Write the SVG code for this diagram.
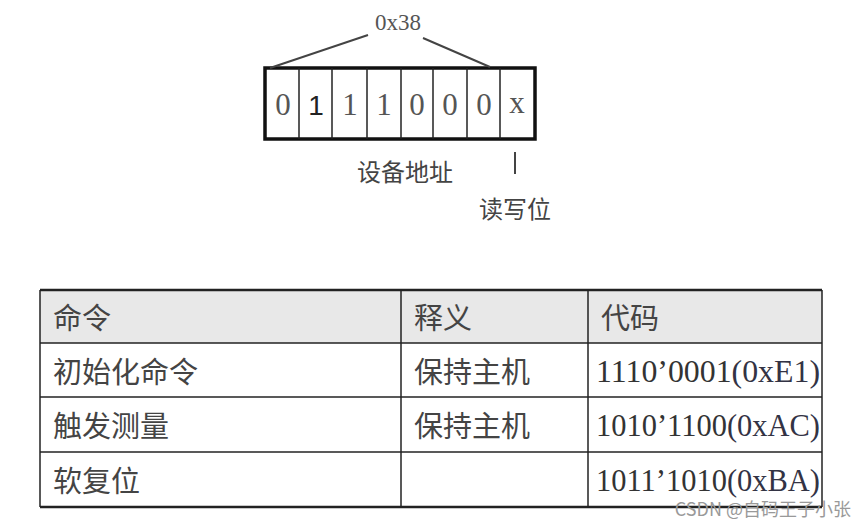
<svg xmlns="http://www.w3.org/2000/svg" width="865" height="527" viewBox="0 0 865 527">
<style>
.bit{font-family:"Liberation Serif",serif;font-size:31px;fill:#555;text-anchor:middle}
.cn{font-family:"Noto Sans CJK SC",sans-serif;font-size:29px;fill:#444}
.code{font-family:"Liberation Serif",serif;font-size:31px;fill:#333}
.hex{font-family:"Liberation Serif",serif;fill:#334}
.ln{stroke:#444;stroke-width:2;fill:none}
</style>
<rect width="865" height="527" fill="#fff"/>
<g id="bits">
<rect x="265" y="68" width="270" height="71" fill="#fff" stroke="#111" stroke-width="3.5"/>
<g stroke="#222" stroke-width="1.5">
<line x1="299" y1="68" x2="299" y2="139"/><line x1="332" y1="68" x2="332" y2="139"/><line x1="367" y1="68" x2="367" y2="139"/><line x1="401" y1="68" x2="401" y2="139"/><line x1="433" y1="68" x2="433" y2="139"/><line x1="467" y1="68" x2="467" y2="139"/><line x1="500" y1="68" x2="500" y2="139"/>
</g>
<text class="bit" x="283" y="115">0</text><text class="bit" x="316" y="115" style="font-family:'Liberation Sans',sans-serif;fill:#222;font-size:28px">1</text><text class="bit" x="350" y="115">1</text><text class="bit" x="384" y="115">1</text><text class="bit" x="417" y="115">0</text><text class="bit" x="450" y="115">0</text><text class="bit" x="484" y="115">0</text><text class="bit" x="517" y="113">x</text>
</g>
<g id="label-0x38"><text class="bit" x="398" y="30" style="font-size:23px">0x38</text></g>
<g id="connectors">
<line class="ln" x1="270" y1="68" x2="368" y2="35"/>
<line class="ln" x1="423" y1="38" x2="490" y2="67"/>
<line class="ln" x1="515" y1="152" x2="515" y2="174"/>
</g>
<g id="label-addr"><text class="cn" x="405" y="181" text-anchor="middle" style="font-size:24px">设备地址</text></g>
<g id="label-rw"><text class="cn" x="515" y="218" text-anchor="middle" style="font-size:24px">读写位</text></g>
<g id="table">
<rect x="40" y="290" width="782" height="53" fill="#e8e8e8"/>
<g stroke="#222" stroke-width="1.5">
<line x1="40" y1="290" x2="822" y2="290" stroke-width="2.5"/>
<line x1="40" y1="343" x2="822" y2="343"/>
<line x1="40" y1="397" x2="822" y2="397"/>
<line x1="40" y1="452" x2="822" y2="452"/>
<line x1="40" y1="507" x2="822" y2="507" stroke-width="2.5"/>
<line x1="40" y1="290" x2="40" y2="507"/>
<line x1="401" y1="290" x2="401" y2="507"/>
<line x1="588" y1="290" x2="588" y2="507"/>
<line x1="822" y1="290" x2="822" y2="507"/>
</g>
<text class="cn" x="53" y="329">命令</text><text class="cn" x="414" y="329">释义</text><text class="cn" x="601" y="329">代码</text>
<text class="cn" x="53" y="383">初始化命令</text><text class="cn" x="414" y="383">保持主机</text>
<text class="code" x="596" y="382" textLength="224" lengthAdjust="spacingAndGlyphs">1110’0001<tspan class="hex">(0xE1)</tspan></text>
<text class="cn" x="53" y="437">触发测量</text><text class="cn" x="414" y="437">保持主机</text>
<text class="code" x="596" y="436" textLength="224" lengthAdjust="spacingAndGlyphs">1010’1100<tspan class="hex">(0xAC)</tspan></text>
<text class="cn" x="53" y="492">软复位</text>
<text class="code" x="596" y="491" textLength="224" lengthAdjust="spacingAndGlyphs">1011’1010<tspan class="hex">(0xBA)</tspan></text>
</g>
<text x="851" y="516" text-anchor="end" font-family="'Noto Sans CJK SC',sans-serif" font-size="18" fill="#999">CSDN @自码王子小张</text>
</svg>
